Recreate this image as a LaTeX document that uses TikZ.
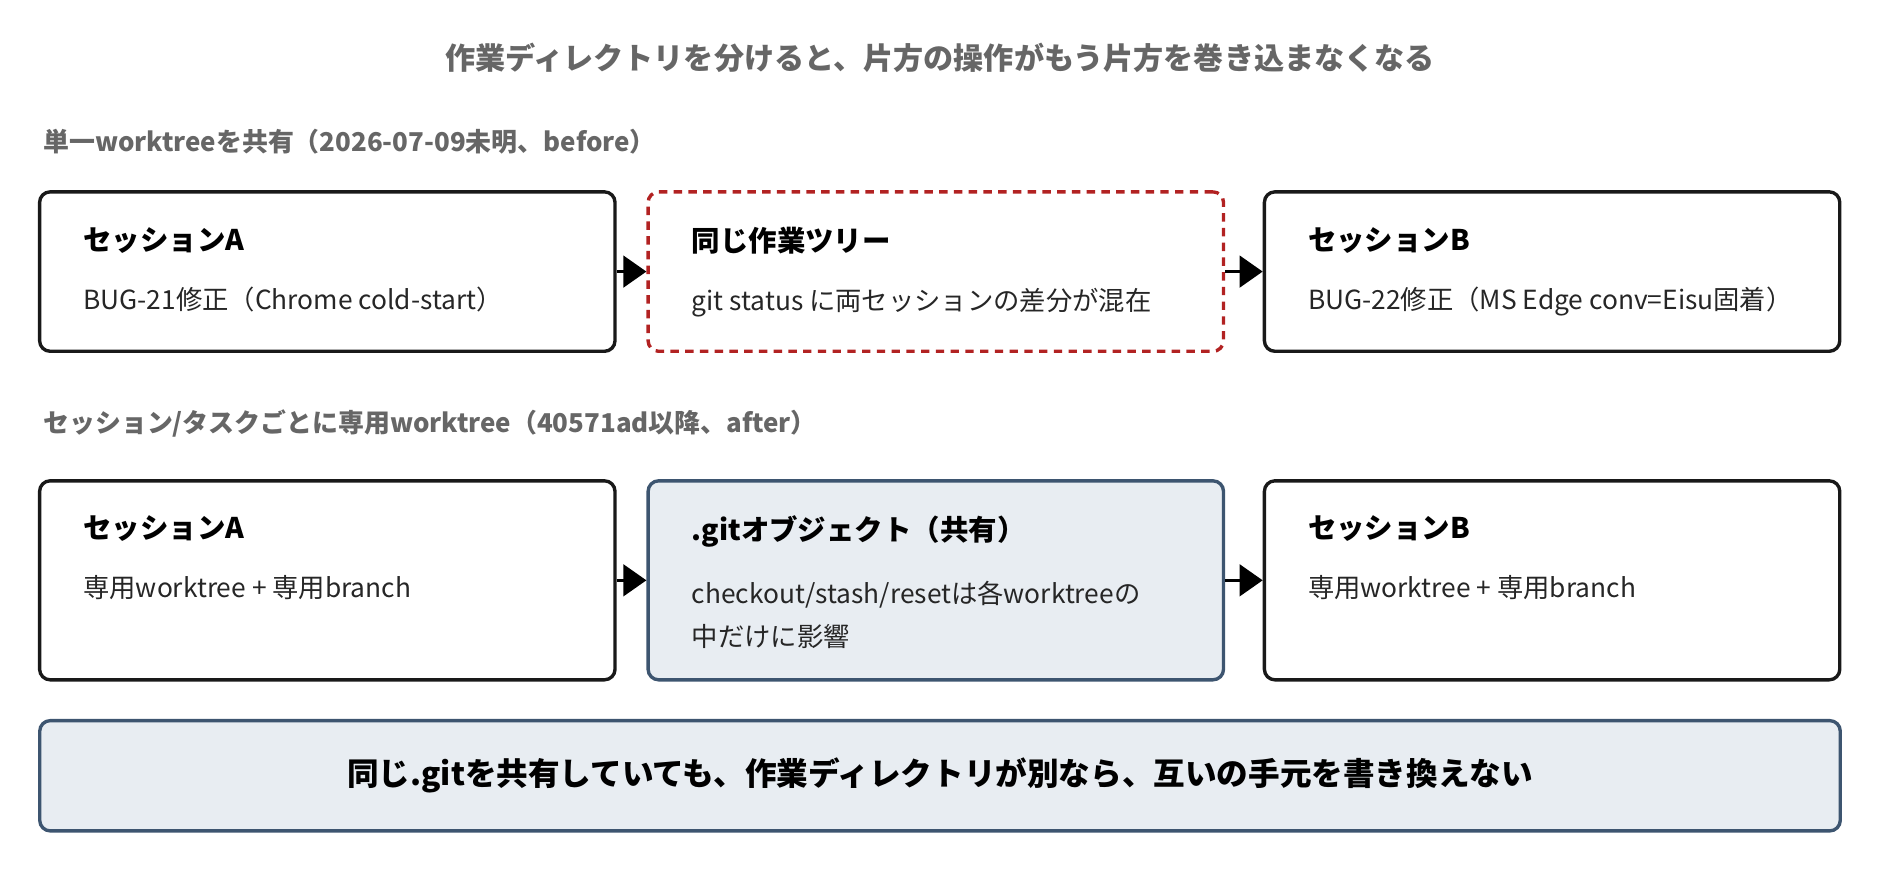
\documentclass[tikz,border=0pt]{standalone}
\usepackage{fontspec}
\setmainfont{Noto Sans CJK JP}
\usetikzlibrary{positioning,arrows.meta}
\definecolor{headgray}{HTML}{666666}
\definecolor{dashred}{HTML}{B22222}
\definecolor{slate}{HTML}{3D5570}
\definecolor{slatefill}{HTML}{E8EDF2}
\tikzset{
  stepbox/.style={draw=black!90, line width=1.6pt, rounded corners=5pt,
    minimum width=9.6cm, inner sep=0pt},
  mixbox/.style={stepbox, draw=dashred, dash pattern=on 4pt off 3pt},
  gitbox/.style={stepbox, draw=slate, fill=slatefill},
  boxhead/.style={anchor=north west, font=\fontsize{13.5}{16}\selectfont\bfseries},
  boxtext/.style={anchor=north west, align=left, font=\fontsize{12.5}{20}\selectfont, text=black!85},
  rowhead/.style={anchor=west, font=\fontsize{12.3}{15}\selectfont\bfseries, text=headgray},
  flow/.style={line width=1.6pt, -{Triangle[length=11pt,width=15pt]}}
}
\begin{document}
\begin{tikzpicture}[x=0.02cm,y=-0.02cm]
\useasboundingbox (0,0) rectangle (1568,725);

\node[font=\fontsize{14.3}{17}\selectfont\bfseries, text=headgray] (title) at (784,48)
  {作業ディレクトリを分けると、片方の操作がもう片方を巻き込まなくなる};

% before
\node[rowhead] (beforehead) at (30,118) {単一worktreeを共有（2026-07-09未明、before）};
\node[stepbox, minimum height=2.66cm] (sa1) at (273,226.5) {};
\node[mixbox, minimum height=2.66cm] (tree) at (780.5,226.5) {};
\node[stepbox, minimum height=2.66cm] (sb1) at (1294.5,226.5) {};
\node[boxhead] (sa1h) at ([xshift=18pt,yshift=-14pt]sa1.north west) {セッションA};
\node[boxtext] (sa1t) at ([yshift=-9pt]sa1h.south west) {BUG-21修正（Chrome cold-start）};
\node[boxhead] (treeh) at ([xshift=18pt,yshift=-14pt]tree.north west) {同じ作業ツリー};
\node[boxtext] (treet) at ([yshift=-9pt]treeh.south west) {git status に両セッションの差分が混在};
\node[boxhead] (sb1h) at ([xshift=18pt,yshift=-14pt]sb1.north west) {セッションB};
\node[boxtext] (sb1t) at ([yshift=-9pt]sb1h.south west) {BUG-22修正（MS Edge conv=Eisu固着）};
\draw[flow] (sa1) -- (tree);
\draw[flow] (tree) -- (sb1);

% after
\node[rowhead] (afterhead) at (30,353) {セッション/タスクごとに専用worktree（40571ad以降、after）};
\node[stepbox, minimum height=3.32cm] (sa2) at (273,484) {};
\node[gitbox, minimum height=3.32cm] (objs) at (780.5,484) {};
\node[stepbox, minimum height=3.32cm] (sb2) at (1294.5,484) {};
\node[boxhead] (sa2h) at ([xshift=18pt,yshift=-14pt]sa2.north west) {セッションA};
\node[boxtext] (sa2t) at ([yshift=-9pt]sa2h.south west) {専用worktree + 専用branch};
\node[boxhead] (objsh) at ([xshift=18pt,yshift=-14pt]objs.north west) {.gitオブジェクト（共有）};
\node[boxtext] (objst) at ([yshift=-9pt]objsh.south west) {checkout/stash/resetは各worktreeの\\中だけに影響};
\node[boxhead] (sb2h) at ([xshift=18pt,yshift=-14pt]sb2.north west) {セッションB};
\node[boxtext] (sb2t) at ([yshift=-9pt]sb2h.south west) {専用worktree + 専用branch};
\draw[flow] (sa2) -- (objs);
\draw[flow] (objs) -- (sb2);

% summary
\node[gitbox, minimum width=30.04cm, minimum height=1.84cm,
  font=\fontsize{15}{18}\selectfont\bfseries] (summary) at (784,647)
  {同じ.gitを共有していても、作業ディレクトリが別なら、互いの手元を書き換えない};
\end{tikzpicture}
\end{document}
